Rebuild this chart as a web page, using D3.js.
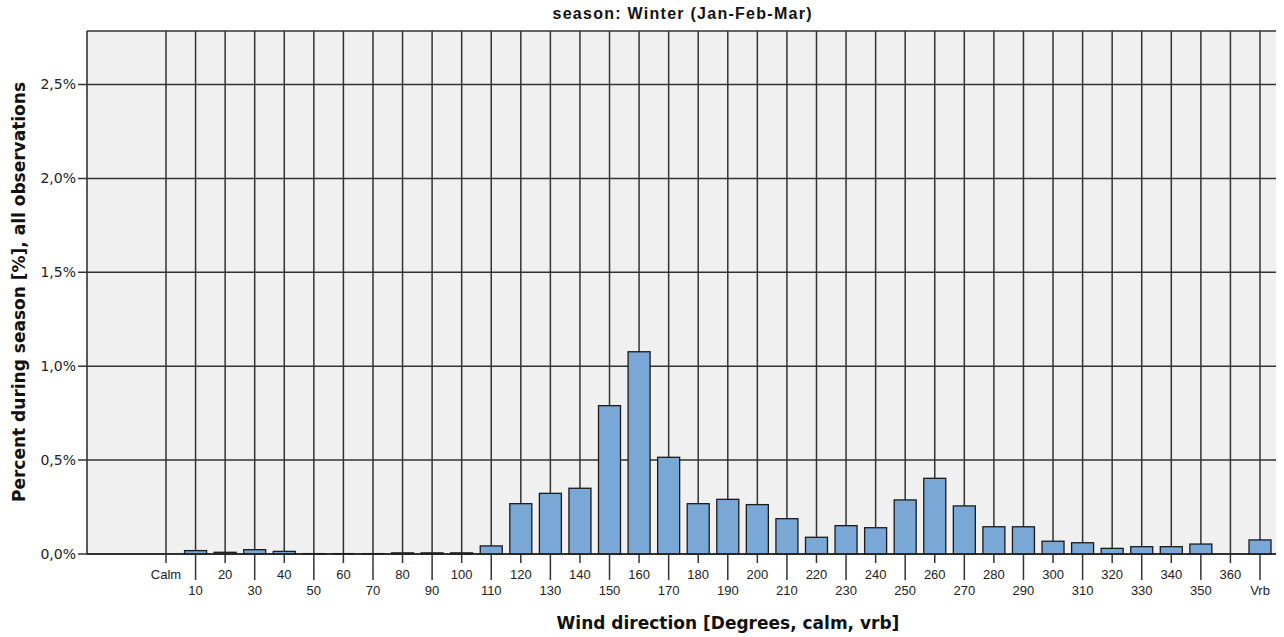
<!DOCTYPE html>
<html><head><meta charset="utf-8">
<script src="https://cdn.jsdelivr.net/npm/d3@7"></script>
<style>body{margin:0;background:#fff}svg{display:block}</style>
</head><body><svg id="c" width="1284" height="637"></svg>
<script>
const categories = ["Calm","10","20","30","40","50","60","70","80","90","100","110","120","130","140","150","160","170","180","190","200","210","220","230","240","250","260","270","280","290","300","310","320","330","340","350","360","Vrb"];
const values = [0.000,0.018,0.009,0.023,0.014,0.002,0.002,0.002,0.006,0.006,0.006,0.043,0.268,0.323,0.350,0.790,1.077,0.515,0.268,0.291,0.263,0.188,0.089,0.151,0.140,0.288,0.403,0.256,0.145,0.145,0.068,0.060,0.030,0.039,0.039,0.053,0.000,0.075];
const yTicks = [0,0.5,1.0,1.5,2.0,2.5];
const title = "season: Winter (Jan-Feb-Mar)";
const xTitle = "Wind direction [Degrees, calm, vrb]";
const yTitle = "Percent during season [%], all observations";

const svg = d3.select("#c");
const L = 87, T = 31, R = 1276, B = 554;
const x = d3.scalePoint().domain(categories).range([166, 1260]);
const y = d3.scaleLinear().domain([0, 2.785]).range([B, T]);
const gridCol = "#333";

svg.append("rect").attr("x", L).attr("y", T).attr("width", R - L).attr("height", B - T).attr("fill", "#f0f0f0");

// horizontal gridlines
svg.append("g").selectAll("line").data(yTicks).join("line")
  .attr("x1", L - 9).attr("x2", R).attr("y1", d => y(d)).attr("y2", d => y(d))
  .attr("stroke", gridCol).attr("stroke-width", 1.5);

// vertical gridlines + ticks (staggered)
svg.append("g").selectAll("line").data(categories).join("line")
  .attr("x1", d => x(d)).attr("x2", d => x(d))
  .attr("y1", T).attr("y2", (d, i) => i % 2 === 0 ? B + 9 : B + 26)
  .attr("stroke", gridCol).attr("stroke-width", 1.5);

// plot borders (left, top)
svg.append("line").attr("x1", L).attr("x2", L).attr("y1", T).attr("y2", B).attr("stroke", gridCol).attr("stroke-width", 1.6);
svg.append("line").attr("x1", L).attr("x2", R).attr("y1", T).attr("y2", T).attr("stroke", gridCol).attr("stroke-width", 1.6);

// bars
const bw = 22;
svg.append("g").selectAll("rect").data(categories).join("rect")
  .attr("x", d => x(d) - bw / 2).attr("width", bw)
  .attr("y", (d, i) => y(values[i])).attr("height", (d, i) => B - y(values[i]))
  .attr("fill", "#79a7d6").attr("stroke", "#1a1a1a").attr("stroke-width", 1.3);

// baseline
svg.append("line").attr("x1", L).attr("x2", R).attr("y1", B).attr("y2", B).attr("stroke", "#222").attr("stroke-width", 1.6);

// y tick labels
svg.append("g").selectAll("text").data(yTicks).join("text")
  .attr("x", 76).attr("y", d => y(d)).attr("dy", "0.35em").attr("text-anchor", "end")
  .attr("font-family", "DejaVu Sans, sans-serif").attr("font-size", 14).attr("fill", "#222")
  .text(d => d.toFixed(1).replace(".", ",") + "%");

// x tick labels
svg.append("g").selectAll("text").data(categories).join("text")
  .attr("x", d => x(d)).attr("y", (d, i) => i % 2 === 0 ? B + 25 : B + 41).attr("text-anchor", "middle")
  .attr("font-family", "Liberation Sans, Arial, sans-serif").attr("font-size", 13).attr("fill", "#222")
  .text(d => d);

// title
svg.append("text").attr("x", 682).attr("y", 19).attr("text-anchor", "middle")
  .attr("font-family", "Liberation Sans, Arial, sans-serif").attr("font-weight", "bold").attr("font-size", 16).attr("fill", "#111")
  .attr("textLength", 259).attr("lengthAdjust", "spacing")
  .text(title);

// axis titles
svg.append("text").attr("x", 728).attr("y", 629).attr("text-anchor", "middle")
  .attr("font-family", "DejaVu Sans, sans-serif").attr("font-weight", "bold").attr("font-size", 17).attr("fill", "#111")
  .text(xTitle);
svg.append("text").attr("transform", "translate(25,292) rotate(-90)").attr("text-anchor", "middle")
  .attr("font-family", "DejaVu Sans, sans-serif").attr("font-weight", "bold").attr("font-size", 17).attr("fill", "#111")
  .text(yTitle);
</script></body></html>
